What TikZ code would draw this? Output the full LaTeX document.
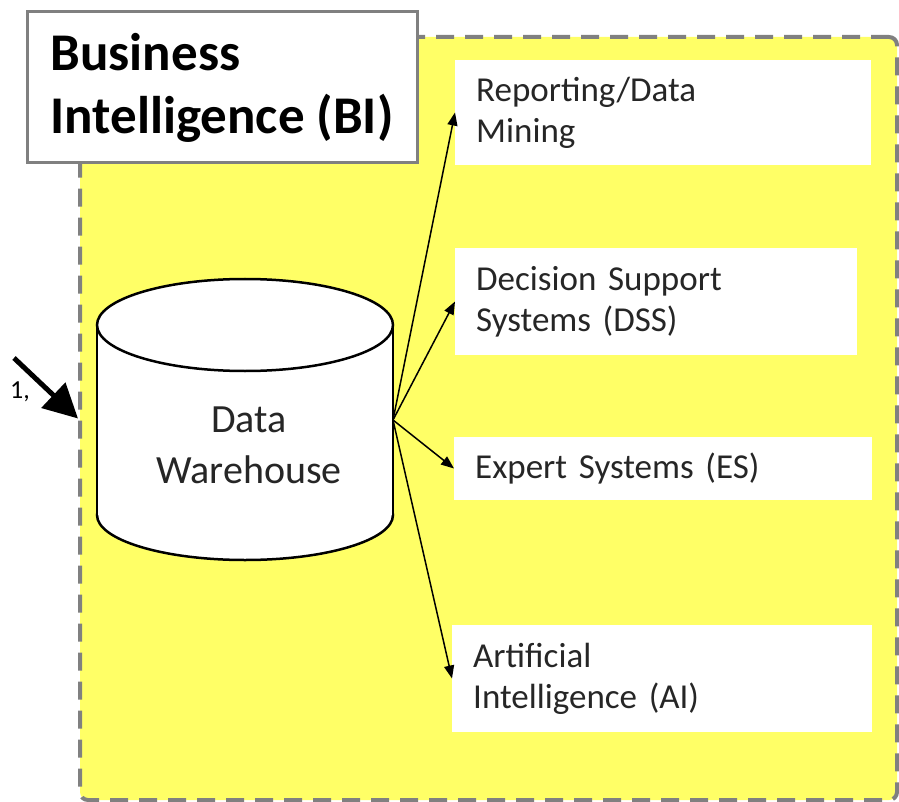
\documentclass[tikz,border=0pt]{standalone}
\usepackage{fontspec}
\setmainfont{Carlito}
\usetikzlibrary{arrows.meta}
\definecolor{biyellow}{RGB}{255,255,102}
\definecolor{bigray}{RGB}{128,128,128}
\begin{document}
\begin{tikzpicture}[x=1pt, y=-1pt]
    \tikzstyle{frame} = [shape=rectangle, draw=bigray, fill=biyellow, line width=4, dash pattern=on 18 off 11, rounded corners=8, minimum width=817, minimum height=763]
    \tikzstyle{titlebox} = [shape=rectangle, draw=bigray, fill=white, line width=3, align=left, font=\bfseries\fontsize{53}{63}\selectfont, minimum width=390, minimum height=151]
    \tikzstyle{appbox} = [shape=rectangle, fill=white, anchor=west, align=left, inner xsep=21, text=black!85, font=\fontsize{35}{41}\selectfont]
    \tikzstyle{link} = [line width=1.5, -{Triangle[length=13,width=10]}]
    \useasboundingbox (0, 0) rectangle (899, 802);

    % 外框与标题
    \path   (488.5, 418.5) node [frame, name=bi] {}
            (222, 87.5) node [titlebox, name=title] {Business\\Intelligence (BI)};

    % 数据仓库
    \draw [line width=2.5, fill=white] (245, 515) ellipse [x radius=148, y radius=45];
    \fill [white] (97, 325) rectangle (393, 515);
    \draw [line width=2.5] (97, 325) -- (97, 515) (393, 325) -- (393, 515);
    \draw [line width=2.5, fill=white] (245, 325) ellipse [x radius=148, y radius=46];
    \path   (249, 445) node [name=dw, align=center, text=black!85, font=\fontsize{40}{51}\selectfont] {Data\\Warehouse};
    \coordinate (hub) at (393, 420);

    \path   (455, 112.5) node [appbox, minimum height=105, text width=374, name=rep] {Reporting/Data\\Mining}
            (455, 301.5) node [appbox, minimum height=107, text width=360, name=dss] {Decision Support\\Systems (DSS)}
            (454, 468.5) node [appbox, minimum height=63, text width=376, name=es] {Expert Systems (ES)}
            (452, 678.5) node [appbox, minimum height=107, text width=378, name=ai] {Artificial\\Intelligence (AI)};

    \draw [link] (hub) -- (rep.west);
    \draw [link] (hub) -- (dss.west);
    \draw [link] (hub) -- (es.west);
    \draw [link] (hub) -- (ai.west);

    % 左侧输入
    \coordinate (src) at (14, 358);
    \path   (20, 392) node [name=cut, font=\fontsize{26}{30}\selectfont] {1,};
    \draw [line width=5, -{Triangle[length=34,width=34]}] (src) -- (bi.west);
\end{tikzpicture}
\end{document}
